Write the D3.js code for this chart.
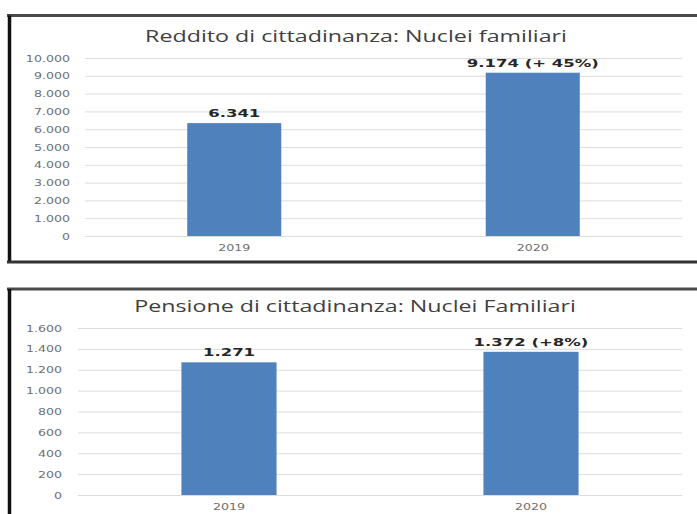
<!DOCTYPE html>
<html>
<head>
<meta charset="utf-8">
<script src="https://cdn.jsdelivr.net/npm/d3@7"></script>
<style>
  body { margin: 0; background: #fff; overflow: hidden; }
  svg { display: block; }
  .grid line { stroke: #dcdcdc; stroke-width: 1; }
  .grid path, .axis path { display: none; }
  .axis text { font-family: "DejaVu Sans", sans-serif; font-size: 9.5px; fill: #6e6e6e; }
  .title { font-family: "Open Sans", sans-serif; font-size: 15.5px; fill: #404040; }
  .value { font-family: "DejaVu Sans", sans-serif; font-size: 11px; font-weight: bold; fill: #262626; }
</style>
</head>
<body>
<script>
// Data
var years = ["2019", "2020"];
var redditoValues = [6341, 9174];
var redditoLabels = ["6.341", "9.174 (+ 45%)"];
var redditoTicks = [0, 1000, 2000, 3000, 4000, 5000, 6000, 7000, 8000, 9000, 10000];
var pensioneValues = [1271, 1372];
var pensioneLabels = ["1.271", "1.372 (+8%)"];
var pensioneTicks = [0, 200, 400, 600, 800, 1000, 1200, 1400, 1600];

var W = 697, H = 514;
// the original picture is stretched sideways
var stretch = 1.33, titleStretch = 1.5, valueStretch = 1.5;
var fmt = function(d) { return d3.format(",")(d).replace(/,/g, "."); };

var svg = d3.select("body").append("svg")
    .attr("width", W)
    .attr("height", H);

function drawChart(opt) {
    var g = svg.append("g");

    // frame
    g.append("line").attr("x1", 7).attr("x2", W).attr("y1", opt.frameTop).attr("y2", opt.frameTop)
        .attr("stroke", "#4a4a4a").attr("stroke-width", 3);
    g.append("line").attr("x1", 9.5).attr("x2", 9.5).attr("y1", opt.frameTop).attr("y2", opt.frameBottom)
        .attr("stroke", "#111").attr("stroke-width", 3.5);
    if (opt.closed) {
        g.append("line").attr("x1", 7).attr("x2", W).attr("y1", opt.frameBottom).attr("y2", opt.frameBottom)
            .attr("stroke", "#333").attr("stroke-width", 3);
    }

    var x = d3.scaleBand().domain(years).range([opt.left, opt.right])
        .paddingInner(0.685).paddingOuter(0.3425);
    var y = d3.scaleLinear().domain([0, opt.ticks[opt.ticks.length - 1]]).range([opt.bottom, opt.top]);

    // gridlines
    g.append("g")
        .attr("class", "grid")
        .attr("transform", "translate(" + opt.left + ",0)")
        .call(d3.axisLeft(y).tickValues(opt.ticks).tickSize(-(opt.right - opt.left)).tickFormat(""));

    // y axis labels
    var ya = g.append("g")
        .attr("class", "axis")
        .attr("transform", "translate(" + opt.labelEnd + ",0)")
        .call(d3.axisLeft(y).tickValues(opt.ticks).tickSize(0).tickPadding(0).tickFormat(fmt));
    ya.selectAll("text").attr("transform", "scale(" + stretch + ",1)");

    // x axis labels
    var xa = g.append("g")
        .attr("class", "axis")
        .attr("transform", "translate(0," + (opt.bottom + 4) + ")")
        .call(d3.axisBottom(x).tickSize(0).tickPadding(4));
    xa.selectAll("text").attr("transform", "scale(" + stretch + ",1)");

    // bars
    g.selectAll("rect.bar")
        .data(opt.values)
        .join("rect")
        .attr("class", "bar")
        .attr("x", function(d, i) { return x(years[i]); })
        .attr("width", x.bandwidth())
        .attr("y", function(d) { return y(d); })
        .attr("height", function(d) { return opt.bottom - y(d); })
        .attr("fill", "#4f81bd");

    // value labels
    g.selectAll("text.value")
        .data(opt.values)
        .join("text")
        .attr("class", "value")
        .attr("text-anchor", "middle")
        .attr("transform", function(d, i) {
            return "translate(" + (x(years[i]) + x.bandwidth() / 2) + "," + (y(d) - 6) + ") scale(" + valueStretch + ",1)";
        })
        .text(function(d, i) { return opt.labels[i]; });

    // title
    g.append("text")
        .attr("class", "title")
        .attr("text-anchor", "middle")
        .attr("transform", "translate(" + opt.titleX + "," + opt.titleY + ") scale(" + titleStretch + ",1)")
        .text(opt.title);
}

drawChart({
    title: "Reddito di cittadinanza: Nuclei familiari",
    values: redditoValues, labels: redditoLabels, ticks: redditoTicks,
    frameTop: 15.5, frameBottom: 262, closed: true,
    left: 85, right: 682, top: 58, bottom: 236, labelEnd: 70,
    titleX: 356, titleY: 42
});

drawChart({
    title: "Pensione di cittadinanza: Nuclei Familiari",
    values: pensioneValues, labels: pensioneLabels, ticks: pensioneTicks,
    frameTop: 289, frameBottom: H, closed: false,
    left: 78, right: 682, top: 328, bottom: 495, labelEnd: 62,
    titleX: 355, titleY: 312
});
</script>
</body>
</html>
